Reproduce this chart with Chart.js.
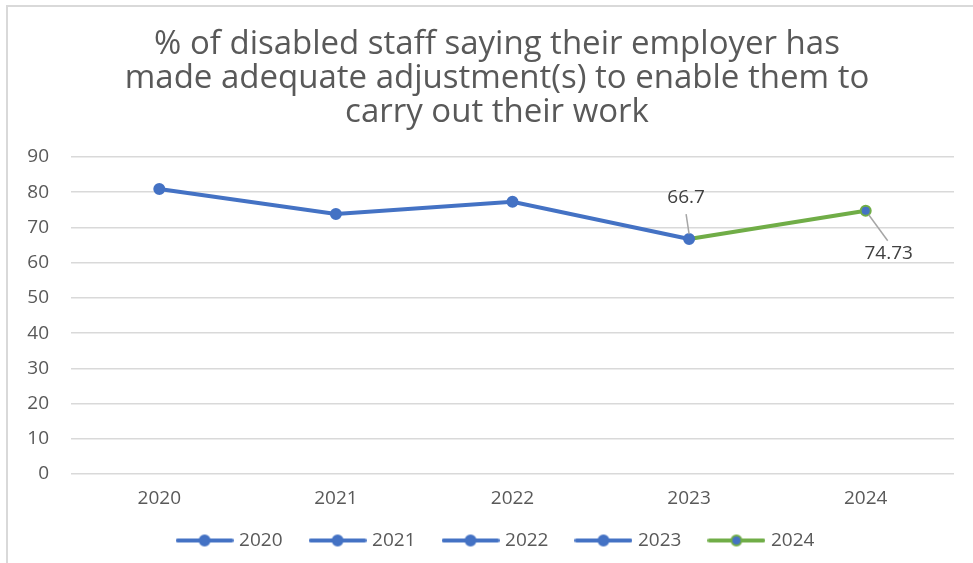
<!DOCTYPE html>
<html>
<head>
<meta charset="utf-8">
<script src="https://cdn.jsdelivr.net/npm/chart.js@4.4.1/dist/chart.umd.min.js"></script>
<style>
  html, body { margin: 0; padding: 0; background: #fff; overflow: hidden; }
  .frame { position: absolute; left: 6px; top: 5px; width: 1000px; height: 700px; border: 2px solid #d9d9d9; }
  .wrap { position: absolute; left: 0; top: 0; width: 973px; height: 563px; }
</style>
</head>
<body>
<div class="frame"></div>
<div class="wrap"><canvas id="chart"></canvas></div>
<script>
const years = ['2020', '2021', '2022', '2023', '2024'];
const adjustmentPct = [80.9, 73.8, 77.3, 66.7, 74.73];
const yTicks = [0, 10, 20, 30, 40, 50, 60, 70, 80, 90];
const labelledPoints = [3, 4];

const BLUE = '#4472c4';
const GREEN = '#70ad47';
const TEXT = '#595959';
const FONT = "'Open Sans', 'DejaVu Sans', sans-serif";

// small line+marker swatch for each legend entry
const makeSwatch = (lineColor, dotBorder) => {
    const c = document.createElement('canvas');
    c.width = 58;
    c.height = 14;
    const g = c.getContext('2d');
    g.strokeStyle = lineColor;
    g.lineWidth = 4;
    g.lineCap = 'round';
    g.beginPath();
    g.moveTo(2, 7);
    g.lineTo(56, 7);
    g.stroke();
    g.beginPath();
    g.arc(29, 7, 5, 0, Math.PI * 2);
    g.fillStyle = BLUE;
    g.fill();
    g.lineWidth = 2;
    g.strokeStyle = dotBorder;
    g.stroke();
    return c;
};

const lastIdx = years.length - 1;
const segColor = i => (i === lastIdx ? GREEN : BLUE);

// tick labels sit outside the tight axis boxes; don't clip them
const noLabelClip = scale => { scale._computeLabelArea = () => undefined; };

// value labels with leader lines, as the spreadsheet places them
const labelOffsets = {
    3: { dx: -3, dy: -41, x1: -3, y1: -25, x2: 0, y2: -5 },
    4: { dx: 23, dy: 43, x1: 3, y1: 4, x2: 22, y2: 30 }
};
const valueLabels = {
    id: 'valueLabels',
    afterDatasetsDraw(chart) {
        const { ctx } = chart;
        const meta = chart.getDatasetMeta(0);
        ctx.save();
        labelledPoints.forEach(i => {
            const pt = meta.data[i];
            const o = labelOffsets[i];
            ctx.strokeStyle = '#a6a6a6';
            ctx.lineWidth = 1.5;
            ctx.beginPath();
            ctx.moveTo(pt.x + o.x1, pt.y + o.y1);
            ctx.lineTo(pt.x + o.x2, pt.y + o.y2);
            ctx.stroke();
            ctx.fillStyle = '#404040';
            ctx.font = `19px ${FONT}`;
            ctx.textAlign = 'center';
            ctx.textBaseline = 'middle';
            ctx.fillText(String(adjustmentPct[i]), pt.x + o.dx, pt.y + o.dy);
        });
        ctx.restore();
    }
};

new Chart(document.getElementById('chart'), {
    type: 'line',
    data: {
        labels: years,
        datasets: [{
            label: 'Adjustments',
            data: adjustmentPct,
            borderColor: BLUE,
            borderWidth: 4,
            segment: {
                borderColor: ctx => segColor(ctx.p1DataIndex)
            },
            pointRadius: 5,
            pointHoverRadius: 5,
            pointBackgroundColor: BLUE,
            pointBorderColor: years.map((y, i) => segColor(i)),
            pointBorderWidth: 2,
            tension: 0,
            fill: false
        }]
    },
    options: {
        responsive: true,
        maintainAspectRatio: false,
        animation: false,
        layout: { padding: { left: 40, right: 19, top: 28, bottom: 3 } },
        scales: {
            x: {
                offset: true,
                afterFit: scale => {
                    scale.height = 27;
                    noLabelClip(scale);
                },
                grid: { display: false, drawTicks: false },
                border: { display: false },
                ticks: { color: TEXT, font: { family: FONT, size: 19 }, padding: 13 }
            },
            y: {
                min: 0,
                max: 90,
                afterBuildTicks: scale => { scale.ticks = yTicks.map(v => ({ value: v })); },
                afterFit: scale => {
                    scale.width = 31;
                    noLabelClip(scale);
                },
                grid: { color: '#d9d9d9', lineWidth: 1.5, drawTicks: false },
                border: { display: false },
                ticks: { color: TEXT, font: { family: FONT, size: 19 }, padding: 22 }
            }
        },
        plugins: {
            title: {
                display: true,
                text: [
                    '% of disabled staff saying their employer has',
                    'made adequate adjustment(s) to enable them to',
                    'carry out their work'
                ],
                color: TEXT,
                font: { family: FONT, size: 33, weight: 'normal', lineHeight: 1.02 },
                padding: { top: 0, bottom: 28 }
            },
            legend: {
                position: 'bottom',
                labels: {
                    usePointStyle: true,
                    pointStyleWidth: 50,
                    boxHeight: 14,
                    padding: 30,
                    color: TEXT,
                    font: { family: FONT, size: 19 },
                    generateLabels: () => years.map((y, i) => ({
                        text: y,
                        pointStyle: makeSwatch(segColor(i), segColor(i)),
                        fillStyle: BLUE,
                        strokeStyle: segColor(i),
                        lineWidth: 0,
                        hidden: false,
                        datasetIndex: 0,
                        fontColor: TEXT
                    }))
                },
                onClick: () => {}
            },
            tooltip: { enabled: false }
        }
    },
    plugins: [valueLabels]
});
</script>
</body>
</html>
